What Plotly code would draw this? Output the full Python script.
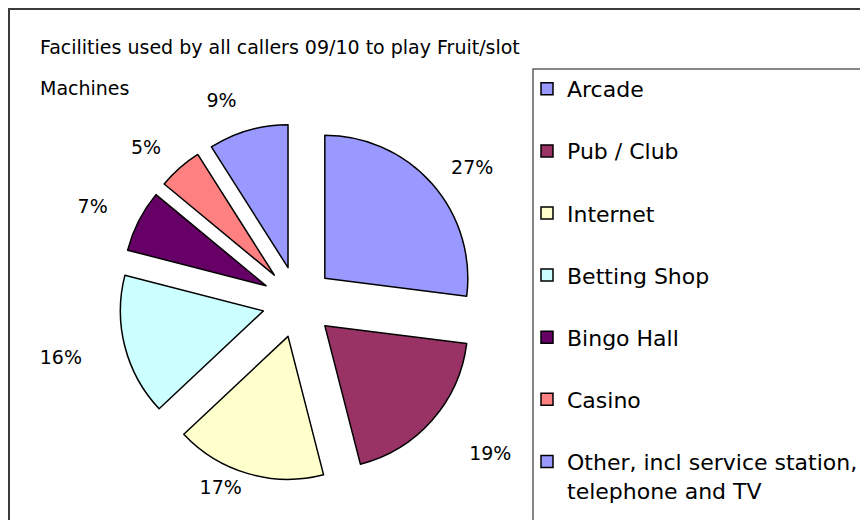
import plotly.graph_objects as go

categories = ["Arcade", "Pub / Club", "Internet", "Betting Shop", "Bingo Hall", "Casino",
              "Other, incl service station,<br>telephone and TV"]
values = [27, 19, 17, 16, 7, 5, 9]
colors = ["#9999FF", "#993366", "#FFFFCC", "#CCFFFF", "#660066", "#FF8080", "#9999FF"]
title_lines = ["Facilities used by all callers 09/10 to play Fruit/slot", "Machines"]

# styling: explosion of the slices and extra offset of the percentage labels
slice_pull = 0.25
label_pull = [0.376, 0.544, 0.27, 0.52, 0.45, 0.39, 0.40]

W, H = 868, 520
OFF = 8  # page offset of the plot div
FONT = "DejaVu Sans"

def px(x):
    return (x - OFF) / W

def py(y):
    return 1 - (y - OFF) / H

CX, CY, R = 298, 302, 143  # pie centre / radius in screen pixels

def dom(half):
    return dict(x=[px(CX - half), px(CX + half)], y=[py(CY + half), py(CY - half)])

fig = go.Figure()
# the exploded pie
fig.add_trace(go.Pie(
    labels=categories, values=values, sort=False, direction="clockwise", rotation=0,
    marker=dict(colors=colors, line=dict(color="black", width=1.5)),
    pull=[slice_pull] * len(values),
    textinfo="none", hoverinfo="label+percent",
    showlegend=False,
    domain=dom(R * (1 + slice_pull)),
))
# percentage labels (same data, invisible wedges)
fig.add_trace(go.Pie(
    labels=categories, values=values, sort=False, direction="clockwise", rotation=0,
    marker=dict(colors=["rgba(0,0,0,0)"] * len(values), line=dict(width=0)),
    pull=label_pull,
    textinfo="percent", textposition="outside",
    textfont=dict(family=FONT, size=19, color="black"),
    hoverinfo="skip", showlegend=False,
    domain=dom(R * (1 + max(label_pull))),
))

for i, (c, col) in enumerate(zip(categories, colors)):
    fig.add_trace(go.Scatter(
        x=[None], y=[None], mode="markers", name=c, legendgroup=f"g{i}",
        marker=dict(symbol="square", size=12, color=col, line=dict(color="black", width=1.5)),
    ))

shapes = [
    dict(type="rect", xref="paper", yref="paper", x0=px(9), x1=px(890), y0=py(9), y1=py(540),
         line=dict(color="#3a3a3a", width=2), fillcolor="rgba(0,0,0,0)", layer="below"),
    dict(type="rect", xref="paper", yref="paper", x0=px(533), x1=px(890), y0=py(69), y1=py(540),
         line=dict(color="#606060", width=1.5), fillcolor="white", layer="below"),
]

annotations = [
    dict(text=title_lines[0], x=px(38), y=py(47), xref="paper", yref="paper",
         xanchor="left", yanchor="middle", showarrow=False,
         font=dict(family=FONT, size=19, color="black")),
    dict(text=title_lines[1], x=px(38), y=py(88), xref="paper", yref="paper",
         xanchor="left", yanchor="middle", showarrow=False,
         font=dict(family=FONT, size=19, color="black")),
]

fig.update_layout(
    width=W, height=H, margin=dict(l=0, r=0, t=0, b=0, autoexpand=False),
    paper_bgcolor="white", plot_bgcolor="white",
    xaxis=dict(visible=False), yaxis=dict(visible=False),
    shapes=shapes, annotations=annotations,
    legend=dict(x=px(527), y=py(68), xanchor="left", yanchor="top",
                traceorder="grouped", tracegroupgap=30.5, valign="top",
                bgcolor="rgba(0,0,0,0)",
                font=dict(family=FONT, size=22, color="black")),
)

fig.write_html("out.html")
